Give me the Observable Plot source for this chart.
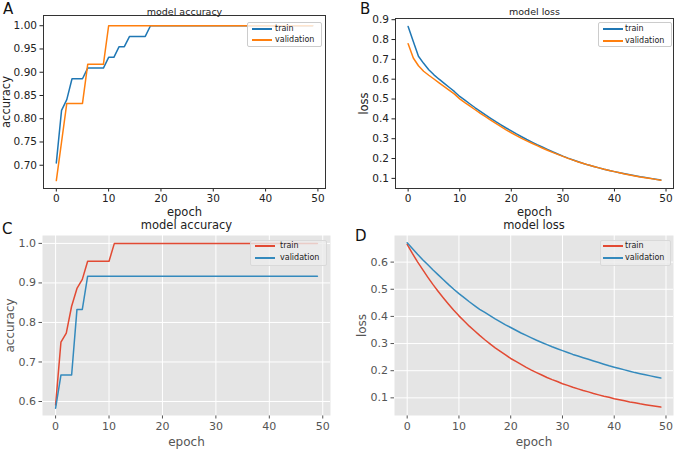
<!DOCTYPE html>
<html><head><meta charset="utf-8">
<script src="https://cdn.jsdelivr.net/npm/d3@7"></script>
<script src="https://cdn.jsdelivr.net/npm/@observablehq/plot@0.6"></script>
<style>
body{margin:0;background:#fff;}
#chart{position:relative;width:676px;height:449px;overflow:hidden;font-family:"DejaVu Sans",sans-serif;background:#fff;}
.panel{position:absolute;}
.letter{position:absolute;font-size:15px;line-height:18px;color:#111;}
.legend{position:absolute;box-sizing:border-box;border:1px solid #ccc;border-radius:2px;}
.sw{position:absolute;height:1.6px;}
.lb{position:absolute;font-size:8px;line-height:10px;white-space:nowrap;}
</style></head><body><div id="chart"></div>
<script>
const epochs = Array.from({length: 50}, (_, i) => i);
const xTicks = [0, 10, 20, 30, 40, 50];
const seriesNames = ["train", "validation"];

// Panel A – model accuracy
const accTrainA = [0.705,0.818,0.841,0.886,0.886,0.886,0.909,0.909,0.909,0.909,
  0.932,0.932,0.955,0.955,0.977,0.977,0.977,0.977,1,1,
  1,1,1,1,1,1,1,1,1,1, 1,1,1,1,1,1,1,1,1,1, 1,1,1,1,1,1,1,1,1,1];
const accValA = [0.667,0.750,0.833,0.833,0.833,0.833,0.917,0.917,0.917,0.917,
  1,1,1,1,1,1,1,1,1,1, 1,1,1,1,1,1,1,1,1,1, 1,1,1,1,1,1,1,1,1,1, 1,1,1,1,1,1,1,1,1,1];
const yTicksA = [0.70, 0.75, 0.80, 0.85, 0.90, 0.95, 1.00];

// Panel B – model loss
const lossTrainB = [0.866,0.790,0.716,0.680,0.648,0.622,0.600,0.579,0.558,0.537,
  0.513,0.494,0.475,0.456,0.438,0.420,0.403,0.386,0.370,0.354,
  0.339,0.324,0.310,0.296,0.283,0.270,0.258,0.246,0.234,0.223,
  0.212,0.202,0.193,0.184,0.175,0.167,0.160,0.153,0.146,0.140,
  0.134,0.128,0.123,0.118,0.113,0.108,0.104,0.100,0.096,0.092];
const lossValB = [0.779,0.707,0.668,0.640,0.620,0.601,0.582,0.563,0.544,0.525,
  0.501,0.482,0.464,0.446,0.428,0.411,0.394,0.377,0.361,0.345,
  0.330,0.316,0.302,0.289,0.277,0.265,0.253,0.242,0.231,0.221,
  0.211,0.201,0.192,0.183,0.175,0.167,0.160,0.153,0.146,0.140,
  0.134,0.128,0.122,0.117,0.112,0.107,0.103,0.099,0.095,0.091];
const yTicksB = [0.1, 0.2, 0.3, 0.4, 0.5, 0.6, 0.7, 0.8, 0.9];

// Panel C – model accuracy (ggplot style)
const accTrainC = [0.591,0.750,0.773,0.841,0.886,0.909,0.955,0.955,0.955,0.955,
  0.955,1,1,1,1,1,1,1,1,1, 1,1,1,1,1,1,1,1,1,1, 1,1,1,1,1,1,1,1,1,1, 1,1,1,1,1,1,1,1,1,1];
const accValC = [0.583,0.667,0.667,0.667,0.833,0.833,0.917,0.917,0.917,0.917,
  0.917,0.917,0.917,0.917,0.917,0.917,0.917,0.917,0.917,0.917,
  0.917,0.917,0.917,0.917,0.917,0.917,0.917,0.917,0.917,0.917,
  0.917,0.917,0.917,0.917,0.917,0.917,0.917,0.917,0.917,0.917,
  0.917,0.917,0.917,0.917,0.917,0.917,0.917,0.917,0.917,0.917];
const yTicksC = [0.6, 0.7, 0.8, 0.9, 1.0];

// Panel D – model loss (ggplot style)
const lossTrainD = [0.665,0.632,0.601,0.572,0.544,0.517,0.492,0.468,0.445,0.423,
  0.402,0.383,0.364,0.347,0.330,0.314,0.299,0.284,0.271,0.258,
  0.245,0.234,0.223,0.212,0.202,0.193,0.184,0.175,0.167,0.160,
  0.152,0.146,0.139,0.133,0.127,0.122,0.116,0.111,0.106,0.102,
  0.097,0.093,0.089,0.085,0.082,0.078,0.075,0.072,0.069,0.066];
const lossValD = [0.671,0.650,0.629,0.609,0.590,0.571,0.553,0.535,0.517,0.500,
  0.484,0.469,0.454,0.440,0.426,0.415,0.403,0.391,0.380,0.369,
  0.359,0.349,0.339,0.330,0.321,0.312,0.304,0.296,0.288,0.281,
  0.274,0.267,0.260,0.254,0.248,0.242,0.236,0.230,0.224,0.218,
  0.213,0.208,0.203,0.198,0.193,0.189,0.185,0.181,0.177,0.173];
const yTicksD = [0.1, 0.2, 0.3, 0.4, 0.5, 0.6];

const mplColors = ["#1f77b4", "#ff7f0e"];
const ggColors = ["#E24A33", "#348ABD"];

const panels = [
  {letter: "A", letterPos: [3, 0], left: 0, top: 0, width: 338, height: 225,
   margin: [15, 13, 37, 43], yDomain: [0.650, 1.022], yTicks: yTicksA, yFmt: ".2f",
   values: [accTrainA, accValA], colors: mplColors, gg: false,
   title: "model accuracy", ylabel: "accuracy", titleDy: -4, titleSize: 9.5,
   ylabelDx: -37, xlabelDy: 24,
   legend: {x: 247, y: 22, w: 75, h: 25, lx: 252, tx: 275, rows: [29, 40]}},
  {letter: "B", letterPos: [360, 0], left: 338, top: 0, width: 338, height: 225,
   margin: [18, 3, 37, 57], yDomain: [0.049, 0.906], yTicks: yTicksB, yFmt: ".1f",
   values: [lossTrainB, lossValB], colors: mplColors, gg: false,
   title: "model loss", ylabel: "loss", titleDy: -7, titleSize: 9.5,
   ylabelDx: -31, xlabelDy: 24,
   legend: {x: 598, y: 22, w: 74, h: 25, lx: 603, tx: 625, rows: [29, 41]}},
  {letter: "C", letterPos: [2, 220], left: 0, top: 212, width: 338, height: 237,
   margin: [23, 8, 34, 42], yDomain: [0.5646, 1.02], yTicks: yTicksC, yFmt: ".1f",
   values: [accTrainC, accValC], colors: ggColors, gg: true,
   title: "model accuracy", ylabel: "accuracy", titleDy: -10, titleSize: 11.5,
   ylabelDx: -32, xlabelDy: 27,
   legend: {x: 250, y: 240, w: 77, h: 26, lx: 255, tx: 280, rows: [246, 258]}},
  {letter: "D", letterPos: [355, 227], left: 338, top: 212, width: 338, height: 237,
   margin: [23, 3, 34, 56], yDomain: [0.035, 0.698], yTicks: yTicksD, yFmt: ".1f",
   values: [lossTrainD, lossValD], colors: ggColors, gg: true,
   title: "model loss", ylabel: "loss", titleDy: -10, titleSize: 11.5,
   ylabelDx: -32, xlabelDy: 27,
   legend: {x: 600, y: 240, w: 71, h: 26, lx: 603, tx: 625, rows: [246, 258]}}
];

const chart = document.getElementById("chart");

for (const p of panels) {
  const data = p.values.flatMap((vals, s) => vals.map((v, i) => ({epoch: epochs[i], value: v, name: seriesNames[s]})));
  const textColor = p.gg ? "#555" : "#222";
  const marks = [];
  if (p.gg) {
    marks.push(Plot.frame({fill: "#e5e5e5", stroke: null}));
    marks.push(Plot.ruleX(xTicks, {stroke: "white", strokeWidth: 1}));
    marks.push(Plot.ruleY(p.yTicks, {stroke: "white", strokeWidth: 1}));
  }
  seriesNames.forEach((name, s) => {
    marks.push(Plot.line(data.filter(d => d.name === name), {x: "epoch", y: "value", stroke: p.colors[s], strokeWidth: 1.5}));
  });
  if (!p.gg) marks.push(Plot.frame({stroke: "#333", strokeWidth: 1}));
  marks.push(Plot.text([p.title], {text: d => d, frameAnchor: "top", dy: p.titleDy, textAnchor: "middle", lineAnchor: "middle", fontSize: p.titleSize, fill: "#222"}));
  marks.push(Plot.text(["epoch"], {text: d => d, frameAnchor: "bottom", dy: p.xlabelDy, textAnchor: "middle", lineAnchor: "middle", fontSize: p.gg ? 12 : 11.5, fill: textColor}));
  marks.push(Plot.text([p.ylabel], {text: d => d, frameAnchor: "left", dx: p.ylabelDx, rotate: -90, textAnchor: "middle", lineAnchor: "middle", fontSize: p.gg ? 12 : 11.5, fill: textColor}));

  const svg = Plot.plot({
    width: p.width, height: p.height,
    marginTop: p.margin[0], marginRight: p.margin[1], marginBottom: p.margin[2], marginLeft: p.margin[3],
    x: {domain: [-2.45, 51.45], ticks: xTicks, tickSize: 3.5, tickPadding: 3, label: null, tickFormat: d3.format("d")},
    y: {domain: p.yDomain, ticks: p.yTicks, tickSize: 3.5, tickPadding: 3, label: null, tickFormat: d3.format(p.yFmt)},
    style: {fontFamily: "DejaVu Sans, sans-serif", fontSize: p.gg ? "11px" : "10.5px", color: textColor, background: "transparent", overflow: "visible"},
    marks
  });
  const wrap = document.createElement("div");
  wrap.className = "panel";
  wrap.style.left = p.left + "px";
  wrap.style.top = p.top + "px";
  wrap.appendChild(svg);
  chart.appendChild(wrap);
}

for (const p of panels) {
  const L = p.legend;
  const box = document.createElement("div");
  box.className = "legend";
  Object.assign(box.style, {left: L.x + "px", top: L.y + "px", width: L.w + "px", height: L.h + "px",
    background: p.gg ? "rgba(236,236,236,0.8)" : "rgba(255,255,255,0.8)",
    borderColor: p.gg ? "#d9d9d9" : "#cccccc"});
  chart.appendChild(box);
  seriesNames.forEach((name, s) => {
    const sw = document.createElement("div");
    sw.className = "sw";
    Object.assign(sw.style, {left: L.lx + "px", top: (L.rows[s] - 0.8) + "px", width: "20px", background: p.colors[s]});
    chart.appendChild(sw);
    const lb = document.createElement("div");
    lb.className = "lb";
    lb.textContent = name;
    Object.assign(lb.style, {left: L.tx + "px", top: (L.rows[s] - 5) + "px", color: "#222"});
    chart.appendChild(lb);
  });
  const letter = document.createElement("div");
  letter.className = "letter";
  letter.textContent = p.letter;
  letter.style.left = p.letterPos[0] + "px";
  letter.style.top = p.letterPos[1] + "px";
  chart.appendChild(letter);
}
</script></body></html>
